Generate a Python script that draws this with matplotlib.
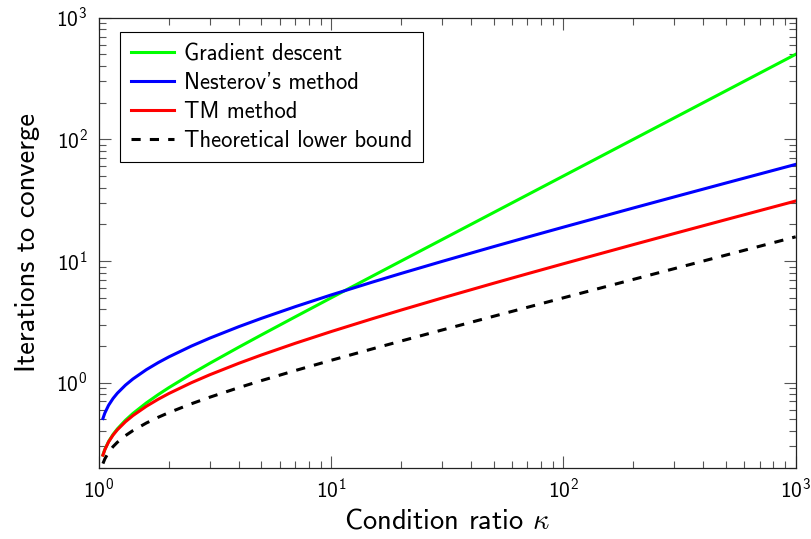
import matplotlib
matplotlib.use("Agg")
import matplotlib.pyplot as plt
from matplotlib.ticker import LogLocator, NullFormatter

plt.rcParams['font.family'] = ['cmss10', 'DejaVu Sans']
plt.rcParams['mathtext.fontset'] = 'custom'
plt.rcParams['mathtext.rm'] = 'cmss10'
plt.rcParams['mathtext.it'] = 'cmss10'
plt.rcParams['mathtext.bf'] = 'cmss10'
plt.rcParams['axes.unicode_minus'] = False

# condition ratio samples
kappa = [1.04, 1.06, 1.1, 1.15, 1.2, 1.3, 1.4, 1.6, 1.8, 2, 2.5, 3, 4, 5, 7,
         10, 15, 20, 30, 50, 70, 100, 200, 300, 500, 1000]

# iterations needed by each method
gradient_descent = [0.2543, 0.2828, 0.3285, 0.3756, 0.4170, 0.4909, 0.5581,
                    0.6820, 0.7982, 0.9102, 1.1802, 1.4427, 1.9576, 2.4663,
                    3.4761, 4.9832, 7.4889, 9.9917, 14.994, 24.997, 34.997,
                    49.998, 99.999, 150.0, 250.0, 500.0]
nesterov = [0.5074, 0.5633, 0.6520, 0.7419, 0.8195, 0.9542, 1.0722, 1.2793,
            1.4621, 1.6287, 1.9982, 2.3223, 2.8854, 3.3739, 4.2127, 5.2614,
            6.6963, 7.9021, 9.9209, 13.117, 15.712, 18.982, 27.272, 33.631,
            43.714, 62.240]
tm_method = [0.2537, 0.2817, 0.3260, 0.3710, 0.4098, 0.4771, 0.5361, 0.6397,
             0.7311, 0.8144, 0.9991, 1.1612, 1.4427, 1.6870, 2.1063, 2.6307,
             3.3481, 3.9511, 4.9604, 6.5584, 7.8560, 9.4912, 13.636, 16.816,
             21.857, 31.120]
lower_bound = [0.2162, 0.2365, 0.2676, 0.2981, 0.3237, 0.3669, 0.4036, 0.4660,
               0.5195, 0.5673, 0.6707, 0.7593, 0.9102, 1.0390, 1.2573, 1.5270,
               1.8926, 2.1983, 2.7079, 3.5119, 4.1632, 4.9832, 7.0594, 8.6504,
               11.173, 15.806]

fig = plt.figure(figsize=(8.12, 5.39), dpi=100)
ax = fig.add_axes([0.1219, 0.1323, 0.8580, 0.8349])

lw = 2.2
ax.plot(kappa, gradient_descent, color='#00ff00', lw=lw, label='Gradient descent')
ax.plot(kappa, nesterov, color='#0000ff', lw=lw, label="Nesterov's method")
ax.plot(kappa, tm_method, color='#ff0000', lw=lw, label='TM method')
ax.plot(kappa, lower_bound, color='black', lw=lw, linestyle=(0, (3, 3)),
        label='Theoretical lower bound')

ax.set_xscale('log')
ax.set_yscale('log')
ax.set_xlim(1, 1000)
ax.set_ylim(0.2, 1000)

for axis in (ax.xaxis, ax.yaxis):
    axis.set_major_locator(LogLocator(base=10, numticks=10))
    axis.set_minor_locator(LogLocator(base=10, subs=range(2, 10), numticks=20))
    axis.set_minor_formatter(NullFormatter())

ax.tick_params(which='both', direction='in', top=True, right=True,
               color='#555555', width=0.8, labelsize=15.5)
ax.tick_params(which='major', length=8.5, pad=8)
ax.tick_params(which='minor', length=5)

for sp in ax.spines.values():
    sp.set_linewidth(0.9)
    sp.set_color('#222222')

ax.set_xlabel(r'Condition ratio $\kappa$', fontsize=20.5, math_fontfamily='cm',
              labelpad=4)
ax.set_ylabel('Iterations to converge', fontsize=20.5, labelpad=12)

leg = ax.legend(loc='upper left', bbox_to_anchor=(0.0301, 0.9676),
                borderaxespad=0, fontsize=16.3, frameon=True, fancybox=False,
                framealpha=1, edgecolor='black', handlelength=1.9,
                handletextpad=0.44, labelspacing=0.30, borderpad=0.48)
leg.get_frame().set_linewidth(0.8)

fig.savefig('out.png', dpi=100)
